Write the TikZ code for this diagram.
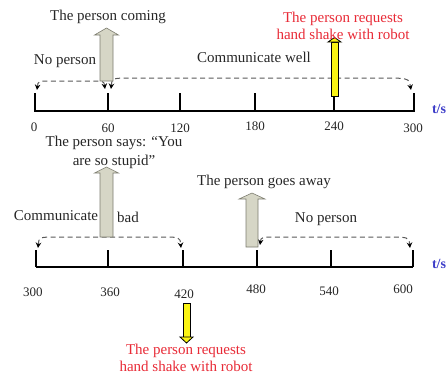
\documentclass[tikz,border=0pt]{standalone}
\usepackage{fontspec}
\setmainfont{Liberation Serif}
\usepackage{xcolor}
\usepackage{tikz}
\usetikzlibrary{arrows.meta, positioning, calc}

\definecolor{armgray}{RGB}{214,214,198}
\definecolor{armedge}{RGB}{125,125,112}
\definecolor{reqred}{RGB}{232,42,54}
\definecolor{unitblue}{RGB}{60,60,200}
\definecolor{handyellow}{RGB}{250,244,20}

\begin{document}
\begin{tikzpicture}[
          x=1pt, y=-1pt,
          every node/.style={inner sep=0pt, text=black!85, font=\fontsize{15}{17}\selectfont},
          num/.style={font=\fontsize{13}{14}\selectfont},
          unit/.style={text=unitblue, font=\fontsize{14}{16}\selectfont\bfseries},
          req/.style={text=reqred, align=center},
          axis/.style={line width=2.6pt, line join=miter},
          tick/.style={line width=2.6pt},
          span/.style={dash pattern=on 5pt off 3.5pt, draw=black!65, line width=1pt,
            {Stealth[length=5.5pt,width=5.5pt,black]}-{Stealth[length=5.5pt,width=5.5pt,black]}},
          grayarrow/.style={fill=armgray, draw=armedge, line width=0.6pt},
          yellowarrow/.style={fill=handyellow, draw=black, line width=0.8pt}
        ]
          \useasboundingbox (0,0) rectangle (448,376);

          % first five minutes
          \coordinate (t0) at (35,111);
          \coordinate (t60) at (108,111);
          \coordinate (t120) at (180,111);
          \coordinate (t180) at (255,111);
          \coordinate (t240) at (334,111);
          \coordinate (t300) at (414,111);

          \draw[axis] ($(t0)+(0,-18)$) -- (t0) -- (t300) -- ($(t300)+(0,-18)$);
          \draw[tick] (t60) -- ++(0,-18);
          \draw[tick] (t120) -- ++(0,-18);
          \draw[tick] (t180) -- ++(0,-18);
          \draw[tick] (t240) -- ++(0,-18);

          \node[num] (n0) at (34,127) {0};
          \node[num] (n60) at (108,128) {60};
          \node[num] (n120) at (180,128) {120};
          \node[num] (n180) at (255,126) {180};
          \node[num] (n240) at (334,126) {240};
          \node[num] (n300) at (413,128) {300};
          \node[unit] (unit1) at (439,109) {t/s};

          \coordinate (s0) at (37,90);
          \coordinate (s60l) at (105,89);
          \coordinate (s60r) at (111,89);
          \coordinate (s300) at (411,90);
          \draw[span] (s0) .. controls ($(s0)+(1,-9)$) .. ($(s0)+(16,-9)$)
            -- ($(s60l)+(-16,-8)$) .. controls ($(s60l)+(-1,-8)$) .. (s60l);
          \draw[span] (s60r) .. controls ($(s60r)+(1,-11)$) .. ($(s60r)+(22,-11)$)
            -- ($(s300)+(-32,-12)$) .. controls ($(s300)+(-2,-12)$) .. (s300);

          \draw[grayarrow] (100,81) -- (100,35) -- (94.5,35) -- (106.5,28)
            -- (118.5,35) -- (113,35) -- (113,81) -- cycle;
          \draw[yellowarrow] (331,96) rectangle (338,42);
          \draw[yellowarrow] (328,42) -- (341,42) -- (334.5,37.5) -- cycle;

          \node (coming) at (108,17) {The person coming};
          \node (nobody1) at (65,61) {No person};
          \node (well) at (254,57) {Communicate well};
          \node[req] (shake1) at (343,26) {The person requests\\hand shake with robot};

          % second five minutes
          \coordinate (b300) at (36,267);
          \coordinate (b360) at (108,267);
          \coordinate (b420) at (183,267);
          \coordinate (b480) at (257,267);
          \coordinate (b540) at (331,267);
          \coordinate (b600) at (413,267);

          \draw[axis] (b300) -- (b600);
          \draw[tick] (b300) -- ++(0,-17);
          \draw[tick] (b360) -- ++(0,-17);
          \draw[tick] (b420) -- ++(0,-17);
          \draw[tick] (b480) -- ++(0,-17);
          \draw[tick] (b540) -- ++(0,-17);
          \draw[tick] (b600) -- ++(0,-17);

          \node[num] (m300) at (33,292) {300};
          \node[num] (m360) at (110,292) {360};
          \node[num] (m420) at (184,294) {420};
          \node[num] (m480) at (256,289) {480};
          \node[num] (m540) at (329,291) {540};
          \node[num] (m600) at (403,289) {600};
          \node[unit] (unit2) at (439,264) {t/s};

          \coordinate (e300) at (38,248);
          \coordinate (e420) at (181,248);
          \coordinate (e480) at (260,245);
          \coordinate (e600) at (410,248);
          \draw[span] (e300) .. controls ($(e300)+(1,-11)$) .. ($(e300)+(20,-11)$)
            -- ($(e420)+(-20,-11)$) .. controls ($(e420)+(-1,-11)$) .. (e420);
          \draw[span] (e480) .. controls ($(e480)+(1,-8)$) .. ($(e480)+(20,-8)$)
            -- ($(e600)+(-26,-11)$) .. controls ($(e600)+(-1,-11)$) .. (e600);

          \draw[grayarrow] (100,237) -- (100,173) -- (94.5,173) -- (106.5,167)
            -- (118.5,173) -- (113,173) -- (113,237) -- cycle;
          \draw[grayarrow] (246,247) -- (246,199) -- (239,199) -- (252,193)
            -- (265,199) -- (258,199) -- (258,247) -- cycle;
          \draw[yellowarrow] (183,303) rectangle (190,337);
          \draw[yellowarrow] (180,337) -- (193,337) -- (186.5,343) -- cycle;

          \node[align=center, font=\fontsize{15}{19}\selectfont] (says) at (114,152)
            {The person says: “You\\are so stupid”};
          \node (commun) at (56,216) {Communicate};
          \node (bad) at (128,217) {bad};
          \node (away) at (264,182) {The person goes away};
          \node (nobody2) at (326,219) {No person};
          \node[req] (shake2) at (186,358) {The person requests\\hand shake with robot};
        \end{tikzpicture}
\end{document}
